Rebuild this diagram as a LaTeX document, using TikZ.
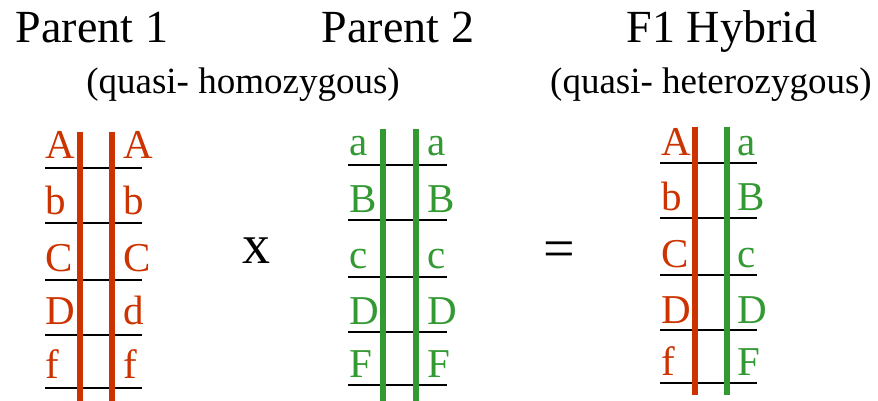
\documentclass[tikz,border=0pt]{standalone}
\usepackage{fontspec}
\setmainfont{Liberation Serif}
\usetikzlibrary{positioning}
\definecolor{GeneRed}{RGB}{204,51,0}
\definecolor{GeneGreen}{RGB}{51,153,51}

\begin{document}
\begin{tikzpicture}[x=1pt,y=-1pt,
  title/.style={anchor=base,inner sep=0pt,font=\fontsize{46}{46}\selectfont},
  subtitle/.style={anchor=base,inner sep=0pt,font=\fontsize{37}{37}\selectfont},
  rgene/.style={anchor=base west,inner sep=0pt,text=GeneRed,
                font=\fontsize{41}{41}\selectfont},
  ggene/.style={anchor=base west,inner sep=0pt,text=GeneGreen,
                font=\fontsize{41}{41}\selectfont},
  rchrom/.style={draw=GeneRed,line width=6pt},
  gchrom/.style={draw=GeneGreen,line width=6pt},
  locus/.style={draw=black,line width=1.5pt},
  symb/.style={anchor=base,inner sep=0pt,font=\fontsize{56}{56}\selectfont},
]
\useasboundingbox (0,0) rectangle (878,401);
% headings
\node[title] (p1title) at (92,43) {Parent 1};
\node[title] (p2title) at (398,43) {Parent 2};
\node[title] (f1title) at (722,43) {F1 Hybrid};
\node[subtitle] (homo) at (243,94) {(quasi- homozygous)};
\node[subtitle] (hetero) at (711,94) {(quasi- heterozygous)};
% locus lines
\draw[locus] (45,168) -- (142,168);
\draw[locus] (45,223) -- (142,223);
\draw[locus] (45,280) -- (142,280);
\draw[locus] (45,335) -- (142,335);
\draw[locus] (45,388) -- (142,388);
\draw[locus] (348,165) -- (447,165);
\draw[locus] (348,220) -- (447,220);
\draw[locus] (348,277) -- (447,277);
\draw[locus] (348,332) -- (447,332);
\draw[locus] (348,385) -- (447,385);
\draw[locus] (660,163) -- (757,163);
\draw[locus] (660,218) -- (757,218);
\draw[locus] (660,275) -- (757,275);
\draw[locus] (660,330) -- (757,330);
\draw[locus] (660,383) -- (757,383);
% chromosomes
\draw[rchrom] (80,132) -- (80,401);
\draw[rchrom] (112,132) -- (112,401);
\draw[gchrom] (383,129) -- (383,401);
\draw[gchrom] (416,129) -- (416,401);
\draw[rchrom] (695,127) -- (695,395);
\draw[gchrom] (727,127) -- (727,395);
% Parent 1
\node[rgene] (p1l1) at (45,159) {A}; \node[rgene] (p1r1) at (123,159) {A};
\node[rgene] (p1l2) at (45,214) {b}; \node[rgene] (p1r2) at (123,214) {b};
\node[rgene] (p1l3) at (45,271) {C}; \node[rgene] (p1r3) at (123,271) {C};
\node[rgene] (p1l4) at (45,324) {D}; \node[rgene] (p1r4) at (123,324) {d};
\node[rgene] (p1l5) at (45,378) {f}; \node[rgene] (p1r5) at (123,378) {f};
% Parent 2
\node[ggene] (p2l1) at (349,156) {a}; \node[ggene] (p2r1) at (427,156) {a};
\node[ggene] (p2l2) at (349,212) {B}; \node[ggene] (p2r2) at (427,212) {B};
\node[ggene] (p2l3) at (349,268) {c}; \node[ggene] (p2r3) at (427,268) {c};
\node[ggene] (p2l4) at (349,324) {D}; \node[ggene] (p2r4) at (427,324) {D};
\node[ggene] (p2l5) at (349,377) {F}; \node[ggene] (p2r5) at (427,377) {F};
% F1 hybrid
\node[rgene] (f1l1) at (661,156) {A}; \node[ggene] (f1r1) at (737,156) {a};
\node[rgene] (f1l2) at (661,210) {b}; \node[ggene] (f1r2) at (737,210) {B};
\node[rgene] (f1l3) at (661,267) {C}; \node[ggene] (f1r3) at (737,267) {c};
\node[rgene] (f1l4) at (661,323) {D}; \node[ggene] (f1r4) at (737,323) {D};
\node[rgene] (f1l5) at (661,375) {f}; \node[ggene] (f1r5) at (737,375) {F};
% cross and result
\node[symb] (cross) at (256,263) {x};
\node[symb] (equals) at (559,267) {=};
\end{tikzpicture}
\end{document}
